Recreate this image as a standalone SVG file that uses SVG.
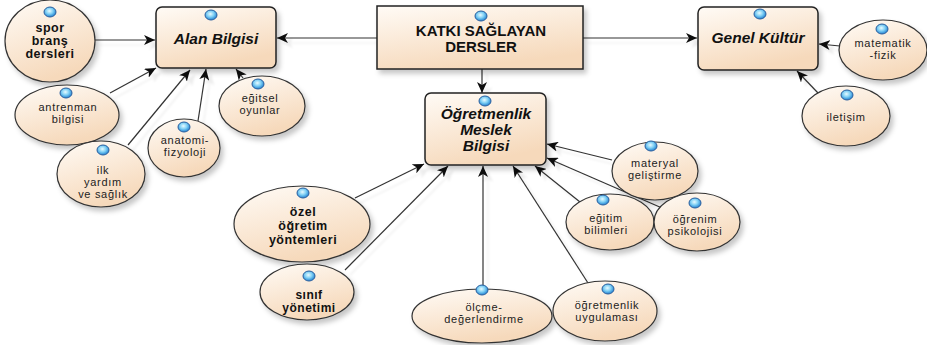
<svg xmlns="http://www.w3.org/2000/svg" xmlns:xlink="http://www.w3.org/1999/xlink" width="927" height="345" viewBox="0 0 927 345">
  <defs>
    <linearGradient id="peach" x1="0" y1="0" x2="0.4" y2="1">
      <stop offset="0" stop-color="#fffbf6"/>
      <stop offset="1" stop-color="#f6d9bb"/>
    </linearGradient>
    <radialGradient id="bead" cx="0.45" cy="0.4" r="0.6">
      <stop offset="0" stop-color="#e8fbff"/>
      <stop offset="0.5" stop-color="#7fd0f5"/>
      <stop offset="1" stop-color="#1f7fd0"/>
    </radialGradient>
    <filter id="shadow" x="-20%" y="-20%" width="150%" height="150%">
      <feDropShadow dx="3" dy="4" stdDeviation="2.5" flood-color="#000" flood-opacity="0.22"/>
    </filter>
    <filter id="lineShadow" x="-10%" y="-10%" width="130%" height="130%">
      <feDropShadow dx="5" dy="5" stdDeviation="1" flood-color="#000" flood-opacity="0.07"/>
    </filter>
    <marker id="arrow" markerUnits="userSpaceOnUse" markerWidth="12" markerHeight="10" refX="11" refY="5" orient="auto">
      <path d="M0,0 L11,5 L0,10 L3,5 z" fill="#111"/>
    </marker>
    <g id="dot">
      <ellipse cx="0" cy="0" rx="6" ry="5" fill="url(#bead)" stroke="#2a5f9e" stroke-width="1"/>
    </g>
  </defs>
  <style>
    .box { fill: url(#peach); stroke: #222; stroke-width: 1.5; filter: url(#shadow); }
    .node { fill: url(#peach); stroke: #333; stroke-width: 1.2; filter: url(#shadow); }
    .title { font-family: "Liberation Sans", Arial, sans-serif; font-weight: bold; font-style: italic; font-size: 15.5px; fill: #111; text-anchor: middle; }
    .root { font-family: "Liberation Sans", Arial, sans-serif; font-weight: bold; font-size: 15px; fill: #111; text-anchor: middle; }
    .lbl { font-family: "Liberation Sans", Arial, sans-serif; font-size: 11px; letter-spacing: 0.7px; fill: #222; text-anchor: middle; }
    .big { font-family: "Liberation Sans", Arial, sans-serif; font-weight: bold; font-size: 12.5px; letter-spacing: 0.5px; fill: #111; text-anchor: middle; }
    .mid { font-family: "Liberation Sans", Arial, sans-serif; font-weight: bold; font-size: 12px; letter-spacing: 0.5px; fill: #111; text-anchor: middle; }
    .conn line { stroke: #333; stroke-width: 1.2; marker-end: url(#arrow); }
  </style>

  <!-- connectors -->
  <g id="connectors" class="conn" filter="url(#lineShadow)">
    <line x1="377" y1="38" x2="277" y2="38"/>
    <line x1="583" y1="38" x2="697" y2="38"/>
    <line x1="482" y1="69" x2="482" y2="93"/>
    <line x1="95" y1="40" x2="155" y2="40"/>
    <line x1="110" y1="93" x2="156" y2="68"/>
    <line x1="128" y1="145" x2="190" y2="70"/>
    <line x1="198" y1="121" x2="206" y2="69"/>
    <line x1="243" y1="78" x2="236" y2="69"/>
    <line x1="840" y1="46" x2="819" y2="44"/>
    <line x1="818" y1="93" x2="797" y2="71"/>
    <line x1="355" y1="198" x2="424" y2="164"/>
    <line x1="345" y1="270" x2="448" y2="166"/>
    <line x1="483" y1="289" x2="483" y2="166"/>
    <line x1="588" y1="283" x2="513" y2="166"/>
    <line x1="580" y1="202" x2="535" y2="166"/>
    <line x1="612" y1="160" x2="547" y2="144"/>
    <line x1="662" y1="208" x2="547" y2="158"/>
  </g>

  <!-- main course groups -->
  <g id="katki">
    <rect class="box" x="377" y="6" width="206" height="63"/>
    <use href="#dot" x="481" y="16"/>
    <text class="root" x="481" y="36">KATKI SAĞLAYAN</text>
    <text class="root" x="481" y="52">DERSLER</text>
  </g>
  <g id="alan">
    <rect class="box" x="156" y="7" width="120" height="61" rx="6"/>
    <use href="#dot" x="211" y="15"/>
    <text class="title" x="216" y="44">Alan Bilgisi</text>
  </g>
  <g id="genel">
    <rect class="box" x="698" y="7" width="120" height="63" rx="6"/>
    <use href="#dot" x="760" y="14"/>
    <text class="title" x="758" y="43">Genel Kültür</text>
  </g>
  <g id="ogretmenlik">
    <rect class="box" x="425" y="93" width="121" height="72" rx="6"/>
    <use href="#dot" x="485" y="101"/>
    <text class="title" x="486" y="119">Öğretmenlik</text>
    <text class="title" x="486" y="135">Meslek</text>
    <text class="title" x="486" y="151">Bilgisi</text>
  </g>

  <!-- Alan Bilgisi subjects -->
  <g id="spor">
    <ellipse class="node" cx="50" cy="41" rx="45" ry="41"/>
    <use href="#dot" x="50" y="12"/>
    <text class="big" x="50" y="32">spor</text>
    <text class="big" x="50" y="45">branş</text>
    <text class="big" x="50" y="58">dersleri</text>
  </g>
  <g id="antrenman">
    <ellipse class="node" cx="67" cy="115" rx="52" ry="30"/>
    <use href="#dot" x="66" y="93"/>
    <text class="lbl" x="68" y="111">antrenman</text>
    <text class="lbl" x="68" y="123">bilgisi</text>
  </g>
  <g id="ilkyardim">
    <ellipse class="node" cx="101" cy="174" rx="44" ry="33"/>
    <use href="#dot" x="103" y="150"/>
    <text class="lbl" x="103" y="174">ilk</text>
    <text class="lbl" x="103" y="186">yardım</text>
    <text class="lbl" x="103" y="198">ve sağlık</text>
  </g>
  <g id="anatomi">
    <ellipse class="node" cx="184" cy="148" rx="36" ry="29"/>
    <use href="#dot" x="184" y="127"/>
    <text class="lbl" x="185" y="144">anatomi-</text>
    <text class="lbl" x="185" y="156">fizyoloji</text>
  </g>
  <g id="egitsel">
    <ellipse class="node" cx="262" cy="106" rx="43" ry="30"/>
    <use href="#dot" x="258" y="84"/>
    <text class="lbl" x="260" y="102">eğitsel</text>
    <text class="lbl" x="260" y="114">oyunlar</text>
  </g>

  <!-- Genel Kültür subjects -->
  <g id="matematik">
    <ellipse class="node" cx="883" cy="50" rx="44" ry="30"/>
    <use href="#dot" x="882" y="29"/>
    <text class="lbl" x="883" y="47">matematik</text>
    <text class="lbl" x="883" y="59">-fizik</text>
  </g>
  <g id="iletisim">
    <ellipse class="node" cx="846" cy="116" rx="44" ry="30"/>
    <use href="#dot" x="847" y="95"/>
    <text class="lbl" x="846" y="121">iletişim</text>
  </g>

  <!-- Öğretmenlik Meslek Bilgisi subjects -->
  <g id="materyal">
    <ellipse class="node" cx="655" cy="171" rx="43" ry="29"/>
    <use href="#dot" x="651" y="146"/>
    <text class="lbl" x="655" y="167">materyal</text>
    <text class="lbl" x="655" y="179">geliştirme</text>
  </g>
  <g id="egitimbilimleri">
    <ellipse class="node" cx="610" cy="222" rx="44" ry="28"/>
    <use href="#dot" x="603" y="200"/>
    <text class="lbl" x="606" y="222">eğitim</text>
    <text class="lbl" x="606" y="234">bilimleri</text>
  </g>
  <g id="ogrenim">
    <ellipse class="node" cx="697" cy="222" rx="43" ry="29"/>
    <use href="#dot" x="695" y="203"/>
    <text class="lbl" x="695" y="223">öğrenim</text>
    <text class="lbl" x="695" y="235">psikolojisi</text>
  </g>
  <g id="ozel">
    <ellipse class="node" cx="302" cy="224" rx="68" ry="38"/>
    <use href="#dot" x="303" y="193"/>
    <text class="big" x="303" y="216" font-size="13.5">özel</text>
    <text class="big" x="303" y="230" font-size="13.5">öğretim</text>
    <text class="big" x="303" y="244" font-size="13.5">yöntemleri</text>
  </g>
  <g id="sinif">
    <ellipse class="node" cx="307" cy="292" rx="47" ry="28"/>
    <use href="#dot" x="309" y="276"/>
    <text class="mid" x="309" y="299">sınıf</text>
    <text class="mid" x="309" y="312">yönetimi</text>
  </g>
  <g id="olcme">
    <ellipse class="node" cx="482" cy="316" rx="70" ry="27"/>
    <use href="#dot" x="482" y="290"/>
    <text class="lbl" x="484" y="311">ölçme-</text>
    <text class="lbl" x="484" y="323">değerlendirme</text>
  </g>
  <g id="uygulama">
    <ellipse class="node" cx="605" cy="311" rx="52" ry="30"/>
    <use href="#dot" x="608" y="289"/>
    <text class="lbl" x="607" y="309">öğretmenlik</text>
    <text class="lbl" x="607" y="321">uygulaması</text>
  </g>
</svg>
